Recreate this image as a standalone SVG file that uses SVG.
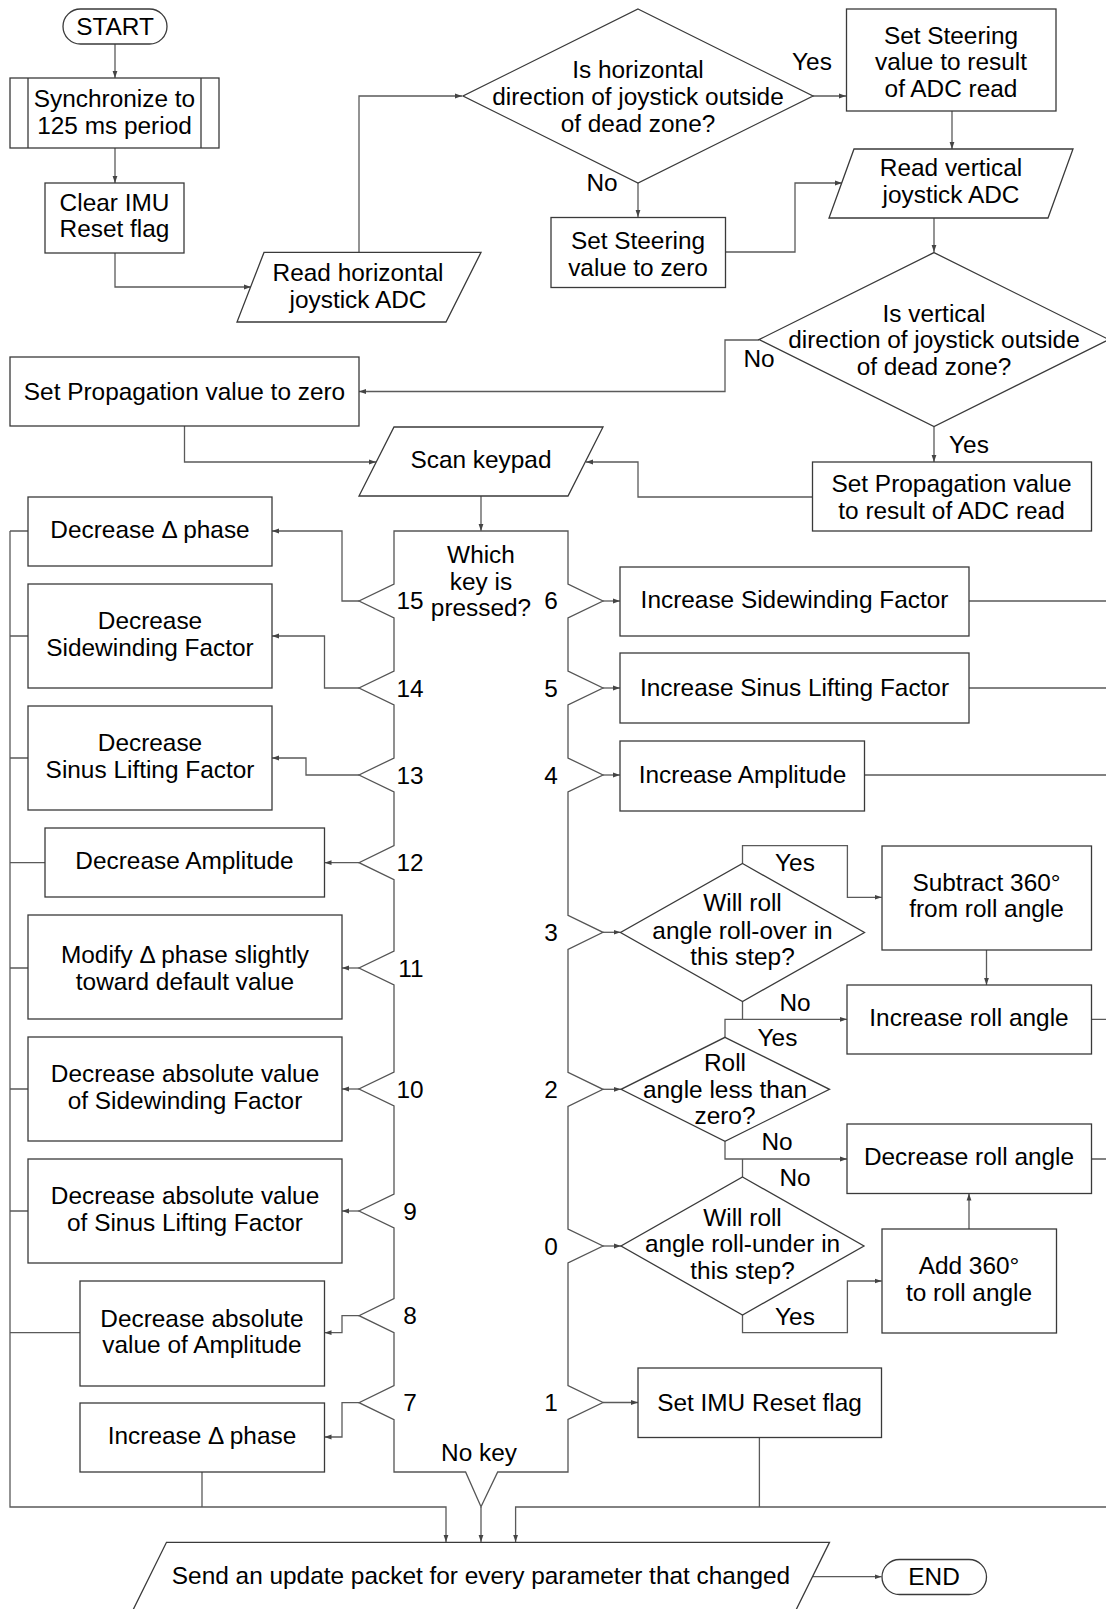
<svg xmlns="http://www.w3.org/2000/svg" width="1106" height="1609" viewBox="0 0 1106 1609">
<style>
.n{fill:#fff;stroke:#3a3a3a;stroke-width:1.3}
.k{fill:#fff;stroke:#555;stroke-width:1.3}
.c{fill:none;stroke:#5a5a5a;stroke-width:1.3}
.a{marker-end:url(#ah)}
text{font-family:"Liberation Sans",Arial,sans-serif;font-size:24.4px;fill:#000;text-anchor:middle}
</style>
<defs>
<marker id="ah" markerWidth="8" markerHeight="6" refX="7" refY="3" orient="auto" markerUnits="userSpaceOnUse">
<path d="M0,0.6 L7,3 L0,5.4 z" fill="#444"/>
</marker>
</defs>
<rect width="1106" height="1609" fill="#fff"/>

<g id="connectors">
<path class="c a" d="M115,44 V78"/>
<path class="c a" d="M115,148 V183"/>
<path class="c a" d="M115,253 V287 H251"/>
<path class="c a" d="M359,252 V96 H462"/>
<path class="c a" d="M813,96 H846"/>
<path class="c a" d="M638,183 V217"/>
<path class="c a" d="M952,111 V149"/>
<path class="c a" d="M725,252 H795 V183 H842"/>
<path class="c a" d="M934,218 V252"/>
<path class="c a" d="M759,340 H725 V391.5 H359"/>
<path class="c a" d="M934,427 V462"/>
<path class="c a" d="M812,497 H638 V462 H586"/>
<path class="c a" d="M184.5,426 V462 H376"/>
<path class="c a" d="M481,496 V531"/>
<path class="c a" d="M359,601 H342 V531 H272"/>
<path class="c a" d="M359,688 H324.5 V636 H272"/>
<path class="c a" d="M359,775 H306 V758 H272"/>
<path class="c a" d="M359,862.7 H324.5"/>
<path class="c a" d="M359,968 H342"/>
<path class="c a" d="M359,1089 H342"/>
<path class="c a" d="M359,1211 H342"/>
<path class="c a" d="M359,1315.7 H342 V1332.7 H324.5"/>
<path class="c a" d="M359,1402.7 H342 V1437 H324.5"/>
<path class="c" d="M28,531 H10 M28,636 H10 M28,758 H10 M45,862.7 H10 M28,968 H10 M28,1089 H10 M28,1211 H10 M80,1332.7 H10"/>
<path class="c a" d="M10,531 V1507 H446 V1542"/>
<path class="c" d="M202,1472 V1507"/>
<path class="c a" d="M481,1506.7 V1542"/>
<path class="c a" d="M1106,1507 H515.6 V1542"/>
<path class="c" d="M759.4,1437 V1507"/>
<path class="c a" d="M603,601 H620"/>
<path class="c a" d="M603,688 H620"/>
<path class="c a" d="M603,775 H620"/>
<path class="c" d="M969,601 H1106 M969,688 H1106 M864.5,775 H1106 M1091.5,1019.3 H1106 M1091.5,1159 H1106"/>
<path class="c a" d="M603,932.3 H620.5"/>
<path class="c a" d="M742.5,863.5 V845.7 H847.4 V897.3 H881.7"/>
<path class="c a" d="M986.5,950 V985"/>
<path class="c" d="M742.5,1001.5 V1019.3"/>
<path class="c a" d="M725,1037.3 V1019.3 H847"/>
<path class="c a" d="M603,1089.3 H621"/>
<path class="c a" d="M725,1141.3 V1159 H847"/>
<path class="c" d="M742.5,1177 V1159"/>
<path class="c a" d="M603,1246 H621"/>
<path class="c a" d="M742.5,1315 V1332.7 H847.4 V1281 H881.7"/>
<path class="c a" d="M969,1229 V1193.5"/>
<path class="c a" d="M603,1402.5 H638"/>
<path class="c a" d="M812.5,1576.7 H881.5"/>
</g>

<g id="labels">
<text x="812" y="70">Yes</text>
<text x="602" y="191">No</text>
<text x="759" y="367">No</text>
<text x="969" y="453">Yes</text>
<text x="795" y="871">Yes</text>
<text x="795" y="1011">No</text>
<text x="777.5" y="1045.5">Yes</text>
<text x="777" y="1150">No</text>
<text x="795" y="1185.5">No</text>
<text x="795" y="1324.5">Yes</text>
</g>

<g id="start">
<rect class="n" x="63" y="9" width="104" height="35" rx="17.5"/>
<text x="115" y="35">START</text>
</g>
<g id="sync">
<rect class="n" x="10" y="78" width="209" height="70"/>
<path class="n" d="M28,78 V148 M201,78 V148"/>
<text x="114.5" y="107">Synchronize to</text>
<text x="114.5" y="134">125 ms period</text>
</g>
<g id="clearimu">
<rect class="n" x="45" y="183" width="139" height="70"/>
<text x="114.5" y="211">Clear IMU</text>
<text x="114.5" y="237">Reset flag</text>
</g>
<g id="readh">
<polygon class="n" points="264,252.4 481,252.4 446,322 237,322"/>
<text x="358" y="281">Read horizontal</text>
<text x="358" y="308">joystick ADC</text>
</g>
<g id="dec_h">
<polygon class="n" points="638,9 813,96 638,183 463,96"/>
<text x="638" y="78">Is horizontal</text>
<text x="638" y="105">direction of joystick outside</text>
<text x="638" y="131.5">of dead zone?</text>
</g>
<g id="steer_adc">
<rect class="n" x="846.5" y="9" width="209.5" height="102"/>
<text x="951" y="43.5">Set Steering</text>
<text x="951" y="70">value to result</text>
<text x="951" y="97">of ADC read</text>
</g>
<g id="steer_zero">
<rect class="n" x="551" y="217.5" width="174.5" height="70"/>
<text x="638" y="249">Set Steering</text>
<text x="638" y="275.5">value to zero</text>
</g>
<g id="readv">
<polygon class="n" points="854,149 1073,149 1048,218 829,218"/>
<text x="951" y="176">Read vertical</text>
<text x="951" y="203">joystick ADC</text>
</g>
<g id="dec_v">
<polygon class="n" points="934,252.6 1109,339.6 934,426.6 759,339.6"/>
<text x="934" y="321.5">Is vertical</text>
<text x="934" y="348">direction of joystick outside</text>
<text x="934" y="375">of dead zone?</text>
</g>
<g id="prop_zero">
<rect class="n" x="10" y="357" width="349" height="69"/>
<text x="184.5" y="399.5">Set Propagation value to zero</text>
</g>
<g id="prop_adc">
<rect class="n" x="812.5" y="462" width="279" height="69"/>
<text x="951.5" y="492">Set Propagation value</text>
<text x="951.5" y="519">to result of ADC read</text>
</g>
<g id="scan">
<polygon class="n" points="394,427 603,427 568,496 359,496"/>
<text x="481" y="468">Scan keypad</text>
</g>
<g id="whichkey">
<path class="k" d="M394,531 H568 V584 L603,601 L568,618 V671 L603,688 L568,705 V758 L603,775 L568,792 V915.3 L603,932.3 L568,949.3 V1072.3 L603,1089.3 L568,1106.3 V1229 L603,1246 L568,1263 V1385.5 L603,1402.5 L568,1419.5 V1472 H497.7 L481,1506.7 L465.6,1472 H394 V1419.7 L359,1402.7 L394,1385.7 V1332.7 L359,1315.7 L394,1298.7 V1228 L359,1211 L394,1194 V1106 L359,1089 L394,1072 V985 L359,968 L394,951 V879.7 L359,862.7 L394,845.7 V792 L359,775 L394,758 V705 L359,688 L394,671 V618 L359,601 L394,584 Z"/>
<text x="481" y="563">Which</text>
<text x="481" y="590">key is</text>
<text x="481" y="616">pressed?</text>
<text x="410" y="609">15</text>
<text x="551" y="609">6</text>
<text x="410" y="696.5">14</text>
<text x="410" y="783.5">13</text>
<text x="410" y="871">12</text>
<text x="411" y="976.5">11</text>
<text x="410" y="1097.5">10</text>
<text x="410" y="1219.5">9</text>
<text x="410" y="1324">8</text>
<text x="410" y="1411">7</text>
<text x="551" y="696.5">5</text>
<text x="551" y="783.5">4</text>
<text x="551" y="940.5">3</text>
<text x="551" y="1097.5">2</text>
<text x="551" y="1254.5">0</text>
<text x="551" y="1410.5">1</text>
<text x="479" y="1460.5">No key</text>
</g>
<g id="dec_dphase">
<rect class="n" x="28" y="497" width="244" height="69"/>
<text x="150" y="538">Decrease Δ phase</text>
</g>
<g id="dec_sw">
<rect class="n" x="28" y="584" width="244" height="104"/>
<text x="150" y="629">Decrease</text>
<text x="150" y="655.5">Sidewinding Factor</text>
</g>
<g id="dec_sl">
<rect class="n" x="28" y="706" width="244" height="104"/>
<text x="150" y="751">Decrease</text>
<text x="150" y="777.5">Sinus Lifting Factor</text>
</g>
<g id="dec_amp">
<rect class="n" x="45" y="828" width="279.5" height="69"/>
<text x="184.5" y="869">Decrease Amplitude</text>
</g>
<g id="mod_dphase">
<rect class="n" x="28" y="915" width="314" height="104"/>
<text x="185" y="963">Modify Δ phase slightly</text>
<text x="185" y="989.5">toward default value</text>
</g>
<g id="decabs_sw">
<rect class="n" x="28" y="1037" width="314" height="104"/>
<text x="185" y="1082">Decrease absolute value</text>
<text x="185" y="1108.5">of Sidewinding Factor</text>
</g>
<g id="decabs_sl">
<rect class="n" x="28" y="1159" width="314" height="104"/>
<text x="185" y="1204">Decrease absolute value</text>
<text x="185" y="1230.5">of Sinus Lifting Factor</text>
</g>
<g id="decabs_amp">
<rect class="n" x="80" y="1281" width="244.5" height="105"/>
<text x="202" y="1326.5">Decrease absolute</text>
<text x="202" y="1353">value of Amplitude</text>
</g>
<g id="inc_dphase">
<rect class="n" x="80" y="1403" width="244.5" height="69"/>
<text x="202" y="1444">Increase Δ phase</text>
</g>
<g id="inc_sw">
<rect class="n" x="620" y="567" width="349" height="69"/>
<text x="794.5" y="608">Increase Sidewinding Factor</text>
</g>
<g id="inc_sl">
<rect class="n" x="620" y="653" width="349" height="70"/>
<text x="794.5" y="695.5">Increase Sinus Lifting Factor</text>
</g>
<g id="inc_amp">
<rect class="n" x="620" y="741" width="244.5" height="70"/>
<text x="742.5" y="782.5">Increase Amplitude</text>
</g>
<g id="rollover">
<polygon class="n" points="742.5,863.5 864.5,932.5 742.5,1001.5 620.5,932.5"/>
<text x="742.5" y="911">Will roll</text>
<text x="742.5" y="939">angle roll-over in</text>
<text x="742.5" y="965">this step?</text>
</g>
<g id="subtract">
<rect class="n" x="882" y="846" width="209.5" height="104"/>
<text x="986.5" y="890.5">Subtract 360°</text>
<text x="986.5" y="917">from roll angle</text>
</g>
<g id="inc_roll">
<rect class="n" x="847" y="985" width="244.5" height="69"/>
<text x="969" y="1025.5">Increase roll angle</text>
</g>
<g id="rollneg">
<polygon class="n" points="725,1037.3 829.5,1089.3 725,1141.3 621,1089.3"/>
<text x="725" y="1071">Roll</text>
<text x="725" y="1097.5">angle less than</text>
<text x="725" y="1124">zero?</text>
</g>
<g id="dec_roll">
<rect class="n" x="847" y="1124" width="244.5" height="69.5"/>
<text x="969" y="1165">Decrease roll angle</text>
</g>
<g id="rollunder">
<polygon class="n" points="742.5,1177 864,1246 742.5,1315 621,1246"/>
<text x="742.5" y="1225.5">Will roll</text>
<text x="742.5" y="1252">angle roll-under in</text>
<text x="742.5" y="1278.5">this step?</text>
</g>
<g id="add360">
<rect class="n" x="882" y="1229" width="174.5" height="104"/>
<text x="969" y="1273.5">Add 360°</text>
<text x="969" y="1300.5">to roll angle</text>
</g>
<g id="imu_reset">
<rect class="n" x="638" y="1368" width="243.5" height="69.5"/>
<text x="759.5" y="1410.5">Set IMU Reset flag</text>
</g>
<g id="send">
<polygon class="n" points="166.5,1542.3 829.5,1542.3 795.5,1611 132.5,1611"/>
<text x="481" y="1584">Send an update packet for every parameter that changed</text>
</g>
<g id="end">
<rect class="n" x="882" y="1559.5" width="104.5" height="35" rx="17.5"/>
<text x="934" y="1585">END</text>
</g>
</svg>
